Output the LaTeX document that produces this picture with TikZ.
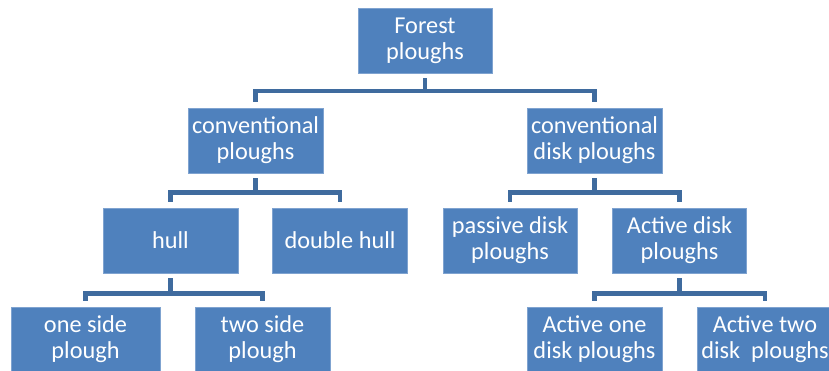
\documentclass[tikz,border=0pt]{standalone}
\usepackage{fontspec}
\setmainfont{Carlito}
\definecolor{boxblue}{HTML}{4F81BD}
\definecolor{boxedge}{HTML}{7FA3D0}
\definecolor{connblue}{HTML}{3F6B9E}
\begin{document}
\begin{tikzpicture}[x=1pt,y=-1pt,
  box/.style={rectangle, fill=boxblue, draw=boxedge, line width=0.6pt,
    minimum height=65pt, minimum width=135pt, inner sep=0pt, align=center,
    text=white, font=\fontsize{24.3}{26}\selectfont},
  conn/.style={draw=connblue, line width=4.5pt, shorten <=5pt, shorten >=6pt}]
\useasboundingbox (0,0) rectangle (829,370);
\node[box, minimum width=134pt] (f) at (425,40.5) {Forest\\ploughs};
\node[box] (cp) at (255.5,140.5) {conventional\\ploughs};
\node[box] (cd) at (594.5,140.5) {conventional\\disk ploughs};
\node[box] (h) at (170.5,240.5) {hull};
\node[box] (dh) at (340,240.5) {double hull};
\node[box, minimum width=134pt] (pd) at (510,240.5) {passive disk\\ploughs};
\node[box, minimum width=134pt] (ad) at (679.5,240.5) {Active disk\\ploughs};
\node[box, minimum width=149pt] (os) at (85.5,339.5) {one side\\plough};
\node[box] (ts) at (262.5,339.5) {two side\\plough};
\node[box] (ao) at (594.5,339.5) {Active one\\disk ploughs};
\node[box] (at2) at (765,339.5) {Active two\\disk~ ploughs};
\draw[conn] (f.south) -- ++(0,17.5) -| (cp.north);
\draw[conn] (f.south) -- ++(0,17.5) -| (cd.north);
\draw[conn] (cp.south) -- ++(0,19) -| (h.north);
\draw[conn] (cp.south) -- ++(0,19) -| (dh.north);
\draw[conn] (cd.south) -- ++(0,19) -| (pd.north);
\draw[conn] (cd.south) -- ++(0,19) -| (ad.north);
\draw[conn] (h.south) -- ++(0,20) -| (os.north);
\draw[conn] (h.south) -- ++(0,20) -| (ts.north);
\draw[conn] (ad.south) -- ++(0,20) -| (ao.north);
\draw[conn] (ad.south) -- ++(0,20) -| (at2.north);
\end{tikzpicture}
\end{document}
